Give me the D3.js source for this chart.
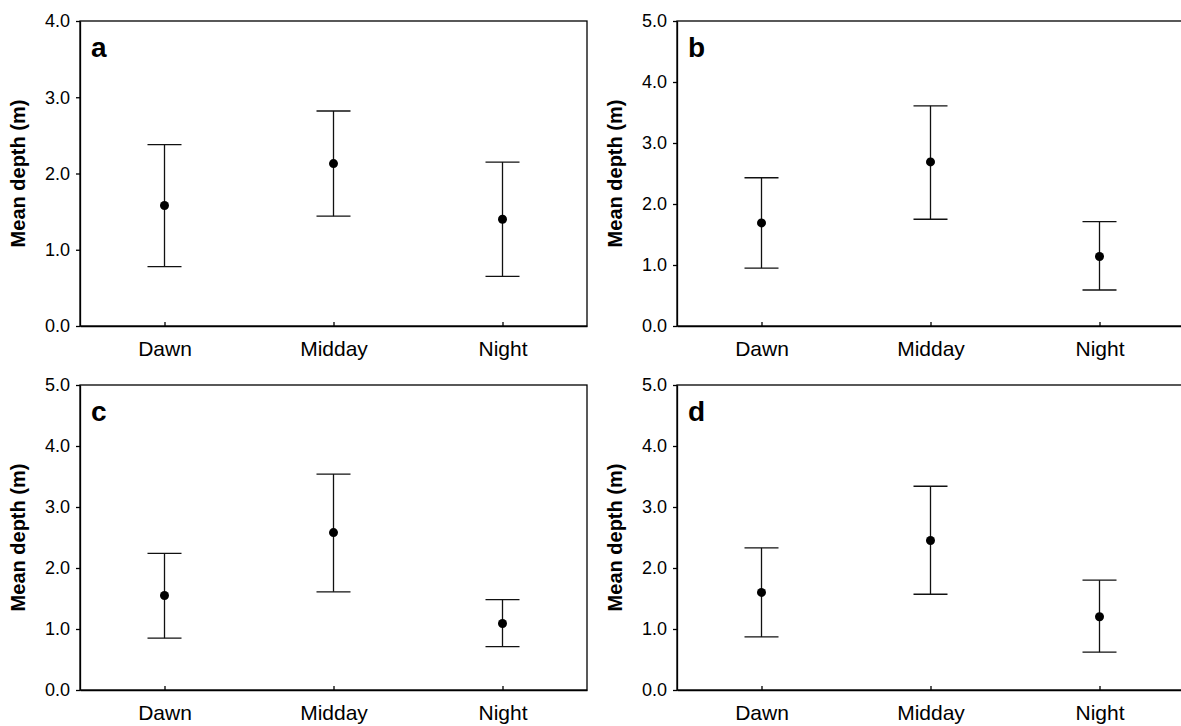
<!DOCTYPE html>
<meta charset="utf-8">
<style>
    body { margin: 0; background: #fff; }
    svg { display: block; }
    .axis path, .axis line { stroke: #000; stroke-width: 1.3px; }
    .axis text { fill: #000; font-family: "Liberation Sans", Arial, sans-serif; }
    .frame { fill: none; stroke: #000; stroke-width: 1.3px; }
    .bar { stroke: #111; stroke-width: 1.3px; fill: none; }
    .dot { fill: #000; }
    .title { font-family: "Liberation Sans", Arial, sans-serif; font-weight: bold; font-size: 20px; }
    .letter { font-family: "Liberation Sans", Arial, sans-serif; font-weight: bold; font-size: 28px; }
</style>
<svg width="1181" height="726"></svg>
<script src="https://d3js.org/d3.v7.min.js"></script>
<script>

    var periods = ["Dawn", "Midday", "Night"];
    var panelLetters = ["a", "b", "c", "d"];
    var panelMax = [4, 5, 5, 5];

    // mean, lower and upper end of the bars, one array per panel
    var meanA = [1.58, 2.13, 1.40], lowA = [0.78, 1.44, 0.65], highA = [2.38, 2.82, 2.15];
    var meanB = [1.69, 2.69, 1.14], lowB = [0.95, 1.75, 0.59], highB = [2.43, 3.61, 1.71];
    var meanC = [1.55, 2.58, 1.09], lowC = [0.85, 1.61, 0.71], highC = [2.24, 3.54, 1.48];
    var meanD = [1.60, 2.45, 1.20], lowD = [0.87, 1.57, 0.62], highD = [2.33, 3.34, 1.80];

    var means = [meanA, meanB, meanC, meanD];
    var lows = [lowA, lowB, lowC, lowD];
    var highs = [highA, highB, highC, highD];

    var svg = d3.select("svg");
    var plotW = 507, plotH = 305;
    var origins = [[80, 21], [677, 21], [80, 385], [677, 385]];

    panelLetters.forEach(function (letter, p) {
        var g = svg.append("g")
            .attr("transform", "translate(" + origins[p][0] + "," + origins[p][1] + ")");

        var x = d3.scaleLinear().domain([0.5, 3.5]).range([0, plotW]);
        var y = d3.scaleLinear().domain([0, panelMax[p]]).range([plotH, 0]);

        g.append("rect")
            .attr("class", "frame")
            .attr("width", plotW)
            .attr("height", plotH);

        var yAxis = g.append("g")
            .attr("class", "axis")
            .call(d3.axisLeft(y)
                .tickValues(d3.range(0, panelMax[p] + 1))
                .tickFormat(d3.format(".1f"))
                .tickSizeInner(4).tickSizeOuter(0).tickPadding(6));
        yAxis.selectAll("text").style("font-size", "18px");

        var xAxis = g.append("g")
            .attr("class", "axis")
            .attr("transform", "translate(0," + plotH + ")")
            .call(d3.axisBottom(x)
                .tickValues([1, 2, 3])
                .tickFormat(function (d) { return periods[d - 1]; })
                .tickSizeInner(-4).tickSizeOuter(0).tickPadding(15));
        xAxis.selectAll("text").style("font-size", "21px");

        g.append("text")
            .attr("class", "title")
            .attr("transform", "rotate(-90)")
            .attr("x", -plotH / 2)
            .attr("y", -55)
            .attr("text-anchor", "middle")
            .text("Mean depth (m)");

        g.append("text")
            .attr("class", "letter")
            .attr("x", 11)
            .attr("y", 36)
            .text(letter);

        var bars = g.selectAll(".errbar")
            .data(periods)
            .enter().append("g")
            .attr("class", "errbar");

        bars.append("line")
            .attr("class", "bar")
            .attr("x1", function (d, i) { return x(i + 1); })
            .attr("x2", function (d, i) { return x(i + 1); })
            .attr("y1", function (d, i) { return y(lows[p][i]); })
            .attr("y2", function (d, i) { return y(highs[p][i]); });

        bars.append("line")
            .attr("class", "bar")
            .attr("x1", function (d, i) { return x(i + 1) - 17; })
            .attr("x2", function (d, i) { return x(i + 1) + 17; })
            .attr("y1", function (d, i) { return y(highs[p][i]); })
            .attr("y2", function (d, i) { return y(highs[p][i]); });

        bars.append("line")
            .attr("class", "bar")
            .attr("x1", function (d, i) { return x(i + 1) - 17; })
            .attr("x2", function (d, i) { return x(i + 1) + 17; })
            .attr("y1", function (d, i) { return y(lows[p][i]); })
            .attr("y2", function (d, i) { return y(lows[p][i]); });

        bars.append("circle")
            .attr("class", "dot")
            .attr("cx", function (d, i) { return x(i + 1); })
            .attr("cy", function (d, i) { return y(means[p][i]); })
            .attr("r", 4.5);
    });

</script>
